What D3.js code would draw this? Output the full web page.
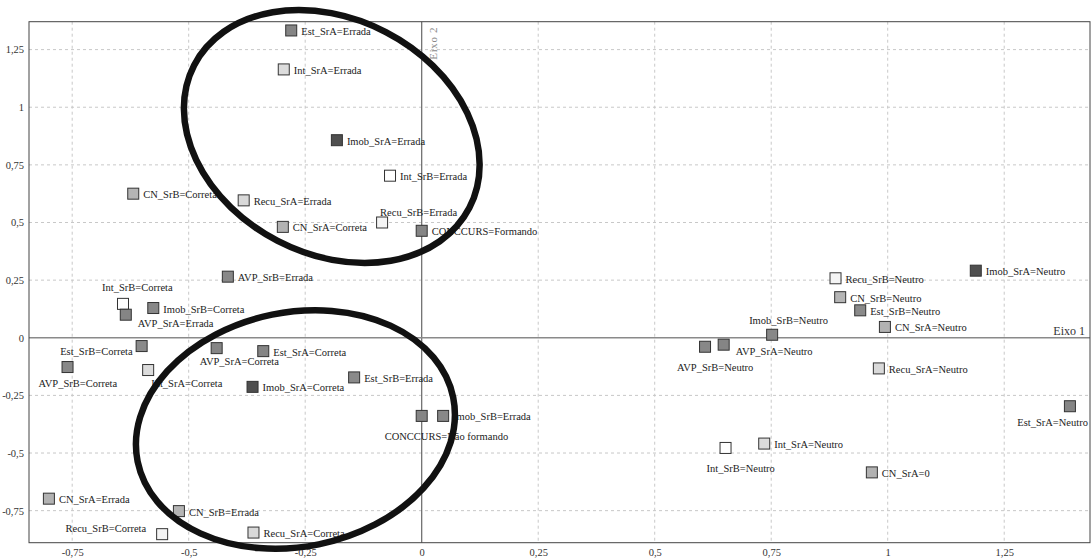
<!DOCTYPE html>
<html><head><meta charset="utf-8">
<script src="https://cdn.jsdelivr.net/npm/d3@7"></script>
<style>
html,body{margin:0;padding:0;background:#fff;}
svg{display:block;}
svg text{font-family:"Liberation Serif","Times New Roman",Tinos,"DejaVu Serif",serif !important;}
</style></head>
<body><svg id="c" width="1092" height="558"></svg>
<script>
// ---- data ----
const labels = [
 "Est_SrA=Errada","Int_SrA=Errada","Imob_SrA=Errada","Int_SrB=Errada","CN_SrB=Correta",
 "Recu_SrA=Errada","CN_SrA=Correta","Recu_SrB=Errada","CONCCURS=Formando","AVP_SrB=Errada",
 "Int_SrB=Correta","AVP_SrA=Errada","Imob_SrB=Correta","Est_SrB=Correta","AVP_SrB=Correta",
 "Int_SrA=Correta","AVP_SrA=Correta","Est_SrA=Correta","Est_SrB=Errada","Imob_SrA=Correta",
 "CONCCURS=Não formando","Imob_SrB=Errada","CN_SrA=Errada","CN_SrB=Errada","Recu_SrB=Correta",
 "Recu_SrA=Correta","Recu_SrB=Neutro","Imob_SrA=Neutro","CN_SrB=Neutro","Est_SrB=Neutro",
 "CN_SrA=Neutro","Imob_SrB=Neutro","AVP_SrB=Neutro","AVP_SrA=Neutro","Recu_SrA=Neutro",
 "Est_SrA=Neutro","Int_SrB=Neutro","Int_SrA=Neutro","CN_SrA=0"
];
const axis1 = [
 -0.280,-0.296,-0.182,-0.068,-0.619,
 -0.382,-0.298,-0.085,0.000,-0.416,
 -0.641,-0.635,-0.576,-0.601,-0.760,
 -0.587,-0.440,-0.340,-0.145,-0.363,
 0.000,0.046,-0.800,-0.521,-0.557,
 -0.361,0.888,1.189,0.898,0.941,
 0.994,0.752,0.608,0.648,0.981,
 1.391,0.652,0.735,0.966
];
const axis2 = [
 1.333,1.164,0.857,0.703,0.625,
 0.596,0.481,0.500,0.464,0.265,
 0.147,0.100,0.129,-0.036,-0.127,
 -0.140,-0.045,-0.058,-0.172,-0.213,
 -0.339,-0.339,-0.698,-0.752,-0.852,
 -0.845,0.258,0.291,0.176,0.119,
 0.047,0.013,-0.039,-0.030,-0.133,
 -0.297,-0.478,-0.459,-0.584
];
const xTicks = [-0.75,-0.5,-0.25,0,0.25,0.5,0.75,1,1.25];
const yTicks = [-0.75,-0.5,-0.25,0,0.25,0.5,0.75,1,1.25];
// highlighted groups (ellipse centres in axis units)
const ellipseCx = [-0.193,-0.271];
const ellipseCy = [0.873,-0.398];

// ---- styles ----
const fillByVar = {
 "Imob_SrA":"#4f4f4f","Est_SrA":"#858585","Est_SrB":"#8a8a8a","AVP_SrA":"#858585","AVP_SrB":"#888888",
 "Imob_SrB":"#888888","CONCCURS":"#858585","CN_SrA":"#b2b2b2","CN_SrB":"#b5b5b5",
 "Int_SrA":"#dcdcdc","Recu_SrA":"#d9d9d9","Int_SrB":"#ffffff","Recu_SrB":"#f4f4f4"
};
const labelPlace = {
 "Recu_SrB=Errada":[-2,-6,"start"],"Int_SrB=Correta":[-21,-13,"start"],"AVP_SrA=Errada":[12,12,"start"],
 "Est_SrB=Correta":[-9,9,"end"],"AVP_SrB=Correta":[-29,20,"start"],"Int_SrA=Correta":[3,17,"start"],
 "AVP_SrA=Correta":[-17,17,"start"],"CONCCURS=Não formando":[-37,24,"start"],"Recu_SrB=Correta":[-16,-2,"end"],
 "Imob_SrB=Neutro":[-23,-11,"start"],"AVP_SrB=Neutro":[-28,24,"start"],"AVP_SrA=Neutro":[12,10,"start"],
 "Est_SrA=Neutro":[18,20,"end"],"Int_SrB=Neutro":[-19,24,"start"]
};
const ellipseGeom = [{rx:155,ry:117.6,rot:27.4},{rx:161,ry:117.2,rot:-11.5}];

const svg = d3.select("#c");
const FF = '"Liberation Serif","Times New Roman",Tinos,"DejaVu Serif",serif';
const L=29, R=1090, T=21.7, B=542.7;
const x = d3.scaleLinear().domain([-0.8427,1.4341]).range([L,R]);
const y = d3.scaleLinear().domain([-0.889,1.371]).range([B,T]);
const fmt = v => String(v).replace(".",",");

// grid
const g = svg.append("g");
g.selectAll("line.gx").data(xTicks.filter(v=>v!==0)).join("line")
 .attr("x1",d=>x(d)).attr("x2",d=>x(d)).attr("y1",T).attr("y2",B)
 .attr("stroke","#c8c8c8").attr("stroke-dasharray","3,3");
g.selectAll("line.gy").data(yTicks.filter(v=>v!==0)).join("line")
 .attr("y1",d=>y(d)).attr("y2",d=>y(d)).attr("x1",L).attr("x2",R)
 .attr("stroke","#c8c8c8").attr("stroke-dasharray","3,3");
// zero axes
svg.append("line").attr("x1",x(0)).attr("x2",x(0)).attr("y1",T).attr("y2",B).attr("stroke","#666").attr("stroke-width",1.2);
svg.append("line").attr("y1",y(0)).attr("y2",y(0)).attr("x1",L).attr("x2",R).attr("stroke","#8a8a8a").attr("stroke-width",1.4);
// frame
svg.append("rect").attr("x",L).attr("y",T).attr("width",R-L).attr("height",B-T)
 .attr("fill","none").attr("stroke","#444").attr("stroke-width",1);

// axes tick labels
const xa = d3.axisBottom(x).tickValues(xTicks).tickFormat(fmt).tickSize(0).tickPadding(6);
const xg = svg.append("g").attr("transform",`translate(0,${B})`).call(xa);
const ya = d3.axisLeft(y).tickValues(yTicks).tickFormat(fmt).tickSize(0).tickPadding(5);
const yg = svg.append("g").attr("transform",`translate(${L},0)`).call(ya);
[xg,yg].forEach(a=>{a.attr("font-family",FF); a.select(".domain").remove();
 a.selectAll("text").attr("font-family",FF).attr("font-size","10.5px").attr("fill","#333");});

// axis titles
svg.append("text").attr("x",1085).attr("y",335).attr("text-anchor","end").attr("font-family",FF)
 .attr("font-size","12px").attr("fill","#333").text("Eixo 1");
svg.append("text").attr("transform",`translate(${x(0)+15},27) rotate(-90)`).attr("text-anchor","end")
 .attr("font-family",FF).attr("font-size","11px").attr("letter-spacing","0.6px").attr("fill","#888").text("Eixo 2");

// points
const pts = labels.map((l,i)=>({l, a:axis1[i], b:axis2[i], v:l.split("=")[0]}));
const S=11;
svg.append("g").selectAll("rect").data(pts).join("rect")
 .attr("x",d=>x(d.a)-S/2).attr("y",d=>y(d.b)-S/2).attr("width",S).attr("height",S)
 .attr("fill",d=>fillByVar[d.v]).attr("stroke","#333").attr("stroke-width",1);
svg.append("g").selectAll("text").data(pts).join("text")
 .attr("x",d=>x(d.a)+(labelPlace[d.l]||[10,4.5])[0])
 .attr("y",d=>y(d.b)+(labelPlace[d.l]||[10,4.5])[1])
 .attr("text-anchor",d=>(labelPlace[d.l]||[0,0,"start"])[2])
 .attr("font-family",FF).attr("font-size","10.5px").attr("fill","#222").text(d=>d.l);

// ellipses
svg.append("g").selectAll("ellipse").data(ellipseCx.map((c,i)=>({c, r:ellipseCy[i], g:ellipseGeom[i]}))).join("ellipse")
 .attr("transform",d=>`translate(${x(d.c)},${y(d.r)}) rotate(${d.g.rot})`)
 .attr("rx",d=>d.g.rx).attr("ry",d=>d.g.ry)
 .attr("fill","none").attr("stroke","#111").attr("stroke-width",6.5);
</script></body></html>
